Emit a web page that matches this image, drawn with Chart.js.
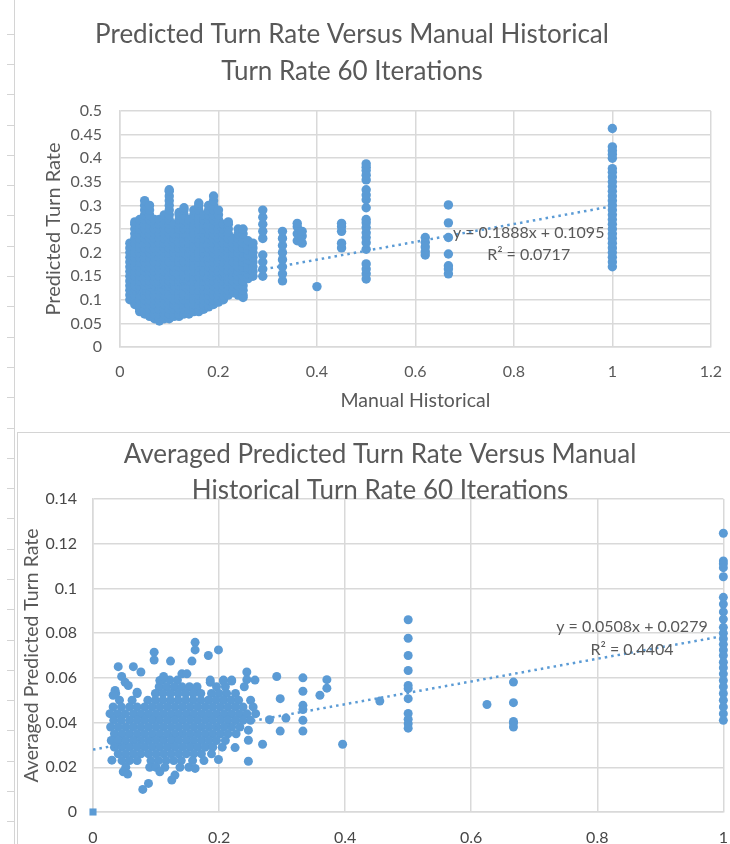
<!DOCTYPE html>
<html>
<head>
<meta charset="utf-8">
<title>Predicted Turn Rate Versus Manual Historical Turn Rate</title>
<script src="https://cdn.jsdelivr.net/npm/chart.js@4.4.1/dist/chart.umd.min.js"></script>
<style>
  html, body { margin: 0; padding: 0; background: #fff; }
  body { position: relative; width: 730px; height: 844px; overflow: hidden; }
  #ruler { position: absolute; left: 14px; top: 0; width: 1px; height: 844px; background: #d4d4d4; }
  .tick { position: absolute; left: 7px; width: 8px; height: 1px; background: #d4d4d4; }
  #box2 { position: absolute; left: 17px; top: 432px; right: 0; bottom: 0; border-top: 1px solid #d4d4d4; border-left: 1px solid #d4d4d4; }
  #c1 { position: absolute; left: 12px; top: 0; }
  #c2 { position: absolute; left: 17px; top: 433px; }
</style>
</head>
<body>
<div id="ruler"></div>
<div id="box2"></div>
<canvas id="c1" width="725" height="428"></canvas>
<canvas id="c2" width="727" height="411"></canvas>
<script>
// ---- chart 1: every iteration, grouped by manual historical rate ----
const manualRates1 = [0.02, 0.03, 0.04, 0.05, 0.06, 0.07, 0.08, 0.09, 0.10, 0.11, 0.12, 0.13, 0.14, 0.15, 0.16, 0.17,
  0.18, 0.19, 0.20, 0.21, 0.22, 0.23, 0.24, 0.25, 0.26, 0.27, 0.29, 0.33, 0.36, 0.37, 0.40, 0.45, 0.50, 0.62, 0.667, 1.0];
const predictedRates1 = [
  [0.10, 0.11, 0.12, 0.13, 0.14, 0.15, 0.16, 0.17, 0.18, 0.19, 0.20, 0.21, 0.22],
  [0.09, 0.10, 0.11, 0.12, 0.13, 0.14, 0.15, 0.16, 0.17, 0.18, 0.19, 0.20, 0.21, 0.22, 0.23, 0.24, 0.25, 0.26, 0.265],
  [0.075, 0.08, 0.09, 0.10, 0.11, 0.12, 0.13, 0.14, 0.15, 0.16, 0.17, 0.18, 0.19, 0.20, 0.21, 0.22, 0.23, 0.24, 0.25, 0.26, 0.27],
  [0.07, 0.08, 0.09, 0.10, 0.11, 0.12, 0.13, 0.14, 0.15, 0.16, 0.17, 0.18, 0.19, 0.20, 0.21, 0.22, 0.23, 0.24, 0.25, 0.26,
    0.27, 0.28, 0.29, 0.30, 0.31],
  [0.065, 0.07, 0.08, 0.09, 0.10, 0.11, 0.12, 0.13, 0.14, 0.15, 0.16, 0.17, 0.18, 0.19, 0.20, 0.21, 0.22, 0.23, 0.24, 0.25,
    0.26, 0.27, 0.28, 0.29, 0.30],
  [0.06, 0.07, 0.08, 0.09, 0.10, 0.11, 0.12, 0.13, 0.14, 0.15, 0.16, 0.17, 0.18, 0.19, 0.20, 0.21, 0.22, 0.23, 0.24, 0.25,
    0.26, 0.27],
  [0.055, 0.06, 0.07, 0.08, 0.09, 0.10, 0.11, 0.12, 0.13, 0.14, 0.15, 0.16, 0.17, 0.18, 0.19, 0.20, 0.21, 0.22, 0.23, 0.24,
    0.25, 0.26, 0.27],
  [0.06, 0.07, 0.08, 0.09, 0.10, 0.11, 0.12, 0.13, 0.14, 0.15, 0.16, 0.17, 0.18, 0.19, 0.20, 0.21, 0.22, 0.23, 0.24, 0.25,
    0.26, 0.27, 0.28],
  [0.06, 0.07, 0.08, 0.09, 0.10, 0.11, 0.12, 0.13, 0.14, 0.15, 0.16, 0.17, 0.18, 0.19, 0.20, 0.21, 0.22, 0.23, 0.24, 0.25,
    0.26, 0.27, 0.28, 0.29, 0.30, 0.31, 0.32, 0.33, 0.333],
  [0.065, 0.07, 0.08, 0.09, 0.10, 0.11, 0.12, 0.13, 0.14, 0.15, 0.16, 0.17, 0.18, 0.19, 0.20, 0.21, 0.22, 0.23, 0.24, 0.25, 0.26],
  [0.065, 0.07, 0.08, 0.09, 0.10, 0.11, 0.12, 0.13, 0.14, 0.15, 0.16, 0.17, 0.18, 0.19, 0.20, 0.21, 0.22, 0.23, 0.24, 0.25,
    0.26, 0.27, 0.28, 0.285],
  [0.07, 0.08, 0.09, 0.10, 0.11, 0.12, 0.13, 0.14, 0.15, 0.16, 0.17, 0.18, 0.19, 0.20, 0.21, 0.22, 0.23, 0.24, 0.25, 0.26,
    0.27, 0.28, 0.29, 0.295],
  [0.07, 0.08, 0.09, 0.10, 0.11, 0.12, 0.13, 0.14, 0.15, 0.16, 0.17, 0.18, 0.19, 0.20, 0.21, 0.22, 0.23, 0.24, 0.25, 0.26, 0.27],
  [0.075, 0.08, 0.09, 0.10, 0.11, 0.12, 0.13, 0.14, 0.15, 0.16, 0.17, 0.18, 0.19, 0.20, 0.21, 0.22, 0.23, 0.24, 0.25, 0.26,
    0.27, 0.28, 0.29],
  [0.075, 0.08, 0.09, 0.10, 0.11, 0.12, 0.13, 0.14, 0.15, 0.16, 0.17, 0.18, 0.19, 0.20, 0.21, 0.22, 0.23, 0.24, 0.25, 0.26,
    0.27, 0.28, 0.29, 0.30, 0.305],
  [0.08, 0.09, 0.10, 0.11, 0.12, 0.13, 0.14, 0.15, 0.16, 0.17, 0.18, 0.19, 0.20, 0.21, 0.22, 0.23, 0.24, 0.25, 0.26, 0.27, 0.28],
  [0.085, 0.09, 0.10, 0.11, 0.12, 0.13, 0.14, 0.15, 0.16, 0.17, 0.18, 0.19, 0.20, 0.21, 0.22, 0.23, 0.24, 0.25, 0.26, 0.27,
    0.28, 0.29, 0.30],
  [0.09, 0.10, 0.11, 0.12, 0.13, 0.14, 0.15, 0.16, 0.17, 0.18, 0.19, 0.20, 0.21, 0.22, 0.23, 0.24, 0.25, 0.26, 0.27, 0.28,
    0.29, 0.30, 0.31, 0.32],
  [0.095, 0.10, 0.11, 0.12, 0.13, 0.14, 0.15, 0.16, 0.17, 0.18, 0.19, 0.20, 0.21, 0.22, 0.23, 0.24, 0.25, 0.26, 0.27, 0.28, 0.29],
  [0.10, 0.11, 0.12, 0.13, 0.14, 0.15, 0.16, 0.17, 0.18, 0.19, 0.20, 0.21, 0.22, 0.23, 0.24, 0.25, 0.26],
  [0.11, 0.12, 0.13, 0.14, 0.15, 0.16, 0.17, 0.18, 0.19, 0.20, 0.21, 0.22, 0.23, 0.24, 0.25, 0.26, 0.265],
  [0.115, 0.12, 0.13, 0.14, 0.15, 0.16, 0.17, 0.18, 0.19, 0.20, 0.21, 0.22, 0.23],
  [0.11, 0.12, 0.13, 0.14, 0.15, 0.16, 0.17, 0.18, 0.19, 0.20, 0.21, 0.22, 0.23, 0.24, 0.25],
  [0.105, 0.11, 0.12, 0.13, 0.14, 0.15, 0.16, 0.17, 0.18, 0.19, 0.20, 0.21, 0.22, 0.23, 0.24, 0.25],
  [0.145, 0.155, 0.165, 0.175, 0.185, 0.195, 0.205, 0.215, 0.225],
  [0.15, 0.16, 0.17, 0.18, 0.19, 0.20, 0.21, 0.22],
  [0.15, 0.165, 0.18, 0.195, 0.23, 0.245, 0.26, 0.275, 0.29],
  [0.14, 0.155, 0.17, 0.185, 0.20, 0.215, 0.23, 0.245],
  [0.225, 0.24, 0.255, 0.262],
  [0.22, 0.235, 0.245],
  [0.128],
  [0.21, 0.22, 0.245, 0.255, 0.262],
  [0.144, 0.155, 0.165, 0.176, 0.207, 0.221, 0.232, 0.242, 0.253, 0.263, 0.270, 0.295, 0.312, 0.322, 0.333,
    0.354, 0.364, 0.374, 0.381, 0.388],
  [0.195, 0.202, 0.212, 0.222, 0.232],
  [0.155, 0.165, 0.172, 0.197, 0.232, 0.263, 0.301],
  [0.17, 0.18, 0.19, 0.20, 0.21, 0.22, 0.23, 0.24, 0.25, 0.26, 0.27, 0.28, 0.29, 0.30, 0.31, 0.32, 0.33, 0.34,
    0.35, 0.36, 0.37, 0.378, 0.40, 0.408, 0.416, 0.424, 0.463]
];
const trend1 = [0.1888, 0.1095];          // slope, intercept
const trendSpan1 = [0.02, 1];
const xTicks1 = [0, 0.2, 0.4, 0.6, 0.8, 1, 1.2];
const yTicks1 = [0, 0.05, 0.1, 0.15, 0.2, 0.25, 0.3, 0.35, 0.4, 0.45, 0.5];
const title1 = ['Predicted Turn Rate Versus Manual Historical', 'Turn Rate 60 Iterations'];
const eq1 = ['y = 0.1888x + 0.1095', 'R\u00b2 = 0.0717'];

// ---- chart 2: averaged over the iterations ----
// dense cloud, one row per predicted value
const cloudRowY2 = [0.059, 0.056, 0.053, 0.050, 0.047, 0.044, 0.041, 0.038, 0.035, 0.032, 0.029, 0.026, 0.023, 0.020];
const cloudRowX2 = [
  [0.11, 0.122, 0.134, 0.186, 0.207, 0.22],
  [0.105, 0.117, 0.129, 0.141, 0.153, 0.165, 0.196, 0.21, 0.24],
  [0.036, 0.07, 0.099, 0.111, 0.123, 0.135, 0.147, 0.159, 0.171, 0.188, 0.2, 0.212, 0.226],
  [0.042, 0.062, 0.087, 0.099, 0.111, 0.123, 0.135, 0.147, 0.159, 0.171, 0.183, 0.195, 0.207, 0.219, 0.231, 0.25],
  [0.032, 0.045, 0.058, 0.07, 0.082, 0.094, 0.106, 0.118, 0.13, 0.142, 0.154, 0.166, 0.178, 0.19, 0.202, 0.214, 0.226, 0.238, 0.254],
  [0.027, 0.039, 0.051, 0.064, 0.076, 0.088, 0.1, 0.112, 0.124, 0.136, 0.148, 0.16, 0.172, 0.184, 0.196, 0.208, 0.22, 0.232, 0.244, 0.258],
  [0.033, 0.045, 0.058, 0.07, 0.082, 0.094, 0.106, 0.118, 0.13, 0.142, 0.154, 0.166, 0.178, 0.19, 0.202, 0.214, 0.226, 0.238, 0.25],
  [0.028, 0.04, 0.052, 0.064, 0.076, 0.088, 0.1, 0.112, 0.124, 0.136, 0.148, 0.16, 0.172, 0.184, 0.196, 0.208, 0.22, 0.233],
  [0.034, 0.046, 0.058, 0.07, 0.082, 0.094, 0.106, 0.118, 0.13, 0.142, 0.154, 0.166, 0.178, 0.19, 0.202, 0.214, 0.227],
  [0.029, 0.04, 0.052, 0.064, 0.076, 0.088, 0.1, 0.112, 0.124, 0.136, 0.148, 0.16, 0.172, 0.184, 0.196, 0.21],
  [0.034, 0.046, 0.058, 0.07, 0.082, 0.094, 0.106, 0.118, 0.13, 0.142, 0.154, 0.166, 0.178, 0.19, 0.205],
  [0.04, 0.052, 0.064, 0.076, 0.088, 0.1, 0.112, 0.124, 0.136, 0.148, 0.16, 0.172, 0.188],
  [0.046, 0.058, 0.07, 0.092, 0.104, 0.116, 0.128, 0.14, 0.158, 0.176],
  [0.052, 0.09, 0.1, 0.114, 0.138, 0.152]
];
// loose points around the cloud, [manual, averaged predicted]
const loosePoints2 = [
  [0.162, 0.0759], [0.162, 0.0725], [0.199, 0.0725], [0.183, 0.070], [0.097, 0.0715], [0.097, 0.068],
  [0.123, 0.0675], [0.157, 0.0675], [0.040, 0.065], [0.064, 0.065], [0.076, 0.0626], [0.0455, 0.0606],
  [0.051, 0.058], [0.035, 0.0544], [0.032, 0.0522], [0.056, 0.0566], [0.070, 0.0536], [0.106, 0.0588],
  [0.112, 0.0606], [0.141, 0.0618], [0.149, 0.0618], [0.186, 0.058], [0.207, 0.0586], [0.22, 0.0586],
  [0.244, 0.0626], [0.244, 0.0592], [0.257, 0.059], [0.2915, 0.0606], [0.333, 0.060], [0.333, 0.054],
  [0.371, 0.0592], [0.371, 0.0554], [0.360, 0.0522], [0.297, 0.0507], [0.333, 0.0477], [0.333, 0.0458],
  [0.455, 0.0496], [0.280, 0.0413], [0.306, 0.042], [0.333, 0.041], [0.297, 0.0362], [0.333, 0.0362],
  [0.2465, 0.0366], [0.2465, 0.0321], [0.269, 0.0303], [0.396, 0.0303], [0.2465, 0.0227], [0.2254, 0.0288],
  [0.199, 0.0235], [0.162, 0.0195], [0.125, 0.0143], [0.130, 0.0165], [0.079, 0.0101], [0.088, 0.0128],
  [0.048, 0.018], [0.055, 0.017], [0.106, 0.018], [0.03, 0.0232], [0.625, 0.0481]
];
// stacked columns at the common manual rates
const columnRates2 = [0.5, 0.667, 1.0];
const columnValues2 = [
  [0.086, 0.0777, 0.070, 0.0633, 0.0566, 0.0552, 0.0507, 0.0441, 0.0415, 0.0395, 0.0375],
  [0.0581, 0.0489, 0.0405, 0.0398, 0.038],
  [0.1247, 0.1123, 0.111, 0.1093, 0.1052, 0.096, 0.093, 0.0895, 0.0863, 0.0826, 0.080, 0.0775, 0.075, 0.0725,
    0.070, 0.067, 0.0645, 0.0618, 0.0588, 0.056, 0.053, 0.050, 0.047, 0.044, 0.041]
];
const originPoint2 = [0, 0];
const trend2 = [0.0508, 0.0279];
const trendSpan2 = [0, 1];
const xTicks2 = [0, 0.2, 0.4, 0.6, 0.8, 1];
const yTicks2 = [0, 0.02, 0.04, 0.06, 0.08, 0.1, 0.12, 0.14];
const title2 = ['Averaged Predicted Turn Rate Versus Manual', 'Historical Turn Rate 60 Iterations'];
const eq2 = ['y = 0.0508x + 0.0279', 'R\u00b2 = 0.4404'];

// ---- page decoration (sheet ruler marks) ----
for (let y = 33.6; y < 844; y += 30.3) {
  const t = document.createElement('div');
  t.className = 'tick';
  t.style.top = Math.round(y) + 'px';
  document.body.appendChild(t);
}

const blue = '#5B9BD5';
const grey = '#595959';
const darkGrey = '#474747';
const gridGrey = '#d9d9d9';
Chart.defaults.font.family = 'Lato, "Open Sans", sans-serif';
Chart.defaults.color = grey;

// titles and trend equations, drawn on the canvas like Excel's text boxes
const sheetText = {
  id: 'sheetText',
  afterDraw(chart, args, opts) {
    const { ctx, scales } = chart;
    ctx.save();
    ctx.fillStyle = grey;
    ctx.textAlign = 'center';
    ctx.textBaseline = 'middle';
    ctx.font = opts.titleFont;
    opts.title.forEach((line, i) => ctx.fillText(line, opts.titleX, opts.titleY[i]));
    ctx.font = opts.eqFont;
    const ex = scales.x.getPixelForValue(opts.eqAt[0]);
    const ey = scales.y.getPixelForValue(opts.eqAt[1]);
    opts.eq.forEach((line, i) => ctx.fillText(line, ex, ey + i * opts.eqGap));
    ctx.restore();
  }
};

function trendPoints(coef, span) {
  return span.map(x => ({ x, y: coef[0] * x + coef[1] }));
}

function axis(ticks, fontSize, pad, width, height, title, color) {
  const cfg = {
    type: 'linear',
    min: ticks[0],
    max: ticks[ticks.length - 1],
    afterBuildTicks: s => { s.ticks = ticks.map(v => ({ value: v })); },
    grid: { color: gridGrey, lineWidth: 1.5, drawTicks: false },
    border: { color: gridGrey, width: 1.5 },
    ticks: {
      padding: pad, maxRotation: 0, autoSkip: false, color: color || grey,
      font: { size: fontSize },
      format: { minimumFractionDigits: 0, maximumFractionDigits: 3 }
    }
  };
  if (width) cfg.afterFit = s => { s.width = width; };
  if (height) cfg.afterFit = s => { s.height = height; };
  if (title) cfg.title = title;
  return cfg;
}

// chart 1
const points1 = [];
manualRates1.forEach((x, i) => predictedRates1[i].forEach(y => points1.push({ x, y })));

new Chart(document.getElementById('c1'), {
  type: 'scatter',
  data: {
    datasets: [
      {
        type: 'line', data: trendPoints(trend1, trendSpan1),
        borderColor: blue, borderWidth: 2.5, borderDash: [2.5, 4], pointRadius: 0, fill: false
      },
      {
        data: points1, backgroundColor: blue, borderColor: blue, borderWidth: 0,
        pointRadius: 4.7, clip: false
      }
    ]
  },
  options: {
    responsive: false, animation: false, events: [],
    layout: { padding: { top: 111, right: 20, bottom: 0, left: 0 } },
    plugins: {
      legend: { display: false }, tooltip: { enabled: false },
      sheetText: {
        title: title1, titleFont: '26px Lato', titleX: 340, titleY: [35, 72],
        eq: eq1, eqFont: '16px Lato', eqAt: [0.83, 0.241], eqGap: 22
      }
    },
    scales: {
      x: axis(xTicks1, 16, 15, 0, 81, {
        display: true, text: 'Manual Historical', font: { size: 19.5 }, padding: { top: 0, bottom: 16 }
      }),
      y: axis(yTicks1, 16, 18, 108, 0, {
        display: true, text: 'Predicted Turn Rate', font: { size: 20 }, padding: { top: 30, bottom: 0 }
      })
    }
  },
  plugins: [sheetText]
});

// chart 2
const points2 = [];
cloudRowY2.forEach((y, i) => cloudRowX2[i].forEach(x => points2.push({ x, y })));
loosePoints2.forEach(p => points2.push({ x: p[0], y: p[1] }));
columnRates2.forEach((x, i) => columnValues2[i].forEach(y => points2.push({ x, y })));

new Chart(document.getElementById('c2'), {
  type: 'scatter',
  data: {
    datasets: [
      {
        type: 'line', data: trendPoints(trend2, trendSpan2),
        borderColor: blue, borderWidth: 2.5, borderDash: [2.5, 4], pointRadius: 0, fill: false
      },
      {
        data: points2, backgroundColor: blue, borderColor: blue, borderWidth: 0,
        pointRadius: 4.5, clip: false
      },
      {
        data: [{ x: originPoint2[0], y: originPoint2[1] }], pointStyle: 'rect',
        backgroundColor: blue, borderColor: blue, borderWidth: 0, pointRadius: 5, clip: false
      }
    ]
  },
  options: {
    responsive: false, animation: false, events: [],
    layout: { padding: { top: 66, right: 7, bottom: 0, left: 0 } },
    plugins: {
      legend: { display: false }, tooltip: { enabled: false },
      sheetText: {
        title: title2, titleFont: '26px Lato', titleX: 363, titleY: [22, 58],
        eq: eq2, eqFont: '16px Lato', eqAt: [0.855, 0.0829], eqGap: 23
      }
    },
    scales: {
      x: axis(xTicks2, 16, 16, 0, 32, null, darkGrey),
      y: axis(yTicks2, 16, 16, 76, 0, {
        display: true, text: 'Averaged Predicted Turn Rate', font: { size: 19.5 }, padding: { top: 3, bottom: 0 }
      }, darkGrey)
    }
  },
  plugins: [sheetText]
});
</script>
</body>
</html>
